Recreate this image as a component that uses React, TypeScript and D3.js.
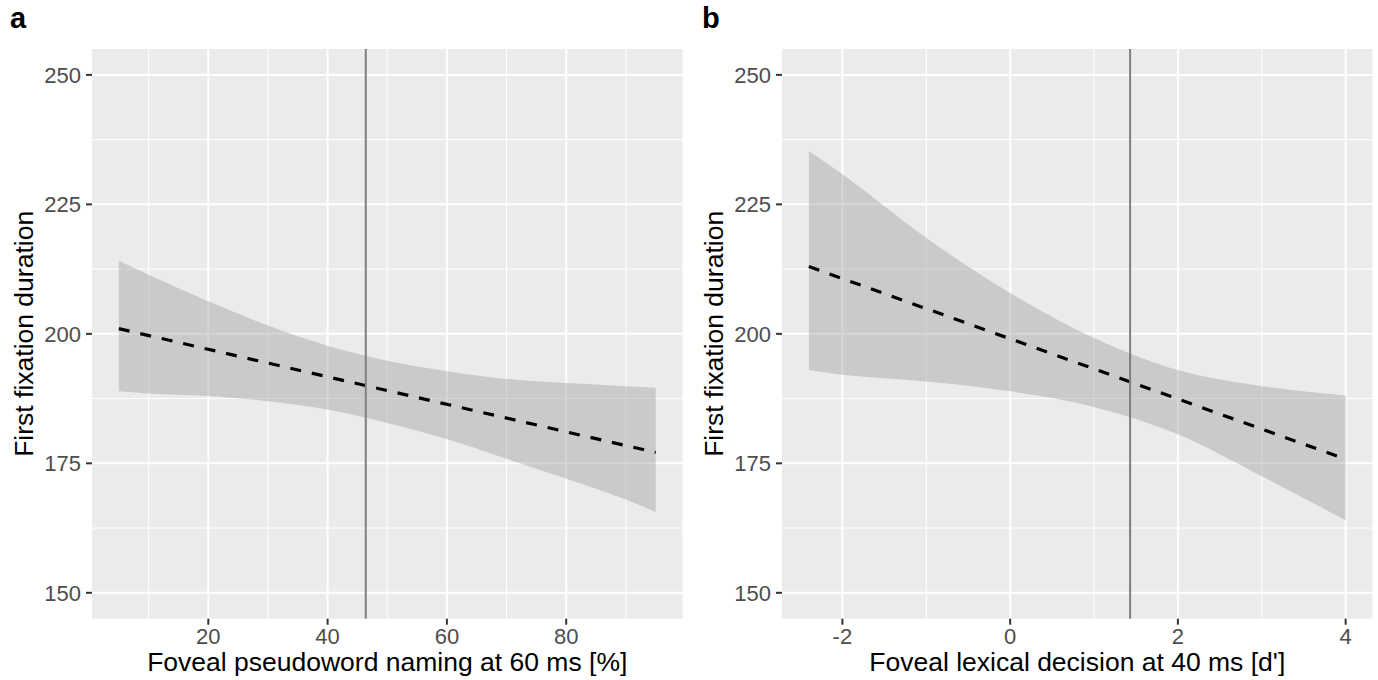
import React from "react";
import * as d3 from "d3";

// ---------- data ----------
const yTicks = [150, 175, 200, 225, 250];
const yMinor = [162.5, 187.5, 212.5, 237.5];

// panel a
const xTicksA = [20, 40, 60, 80];
const xMinorA = [10, 30, 50, 70, 90];
const ribbonXA = [5, 10, 20, 30, 40, 50, 60, 70, 80, 90, 95];
const upperA = [214.1, 211.4, 206.3, 201.6, 197.7, 194.8, 192.8, 191.3, 190.5, 189.9, 189.6];
const lowerA = [188.9, 188.5, 188.0, 187.0, 185.4, 182.8, 179.7, 175.9, 172.0, 168.0, 165.6];
const fitXA = [5, 95];
const fitYA = [201.0, 177.1];
const vlineA = 46.4;

// panel b
const xTicksB = [-2, 0, 2, 4];
const xMinorB = [-1, 1, 3];
const ribbonXB = [-2.4, -2, -1, 0, 1, 2, 3, 4];
const upperB = [235.3, 230.8, 218.5, 207.9, 199.2, 193.0, 189.9, 188.1];
const lowerB = [193.0, 192.1, 190.8, 188.9, 185.9, 180.6, 172.5, 164.0];
const fitXB = [-2.4, 4];
const fitYB = [213.0, 175.8];
const vlineB = 1.43;

const FONT = "'Liberation Sans', Arial, Helvetica, sans-serif";

type PanelProps = {
  tag: string;
  tagX: number;
  left: number;
  right: number;
  xDomain: [number, number];
  xTicks: number[];
  xMinor: number[];
  ribX: number[];
  upper: number[];
  lower: number[];
  fitX: number[];
  fitY: number[];
  vline: number;
  xTitle: string;
  yTitleX: number;
};

const TOP = 49;
const BOTTOM = 618.7;

function Panel(p: PanelProps) {
  const x = d3.scaleLinear().domain(p.xDomain).range([p.left, p.right]);
  const y = d3.scaleLinear().domain([145, 255]).range([BOTTOM, TOP]);
  const ribData = p.ribX.map((v, i) => ({ x: v, lo: p.lower[i], hi: p.upper[i] }));
  const area = d3
    .area<{ x: number; lo: number; hi: number }>()
    .x((d) => x(d.x))
    .y0((d) => y(d.lo))
    .y1((d) => y(d.hi))
    .curve(d3.curveMonotoneX);
  const fitData = p.fitX.map((v, i) => [x(v), y(p.fitY[i])] as [number, number]);
  const line = d3.line();
  const cx = (p.left + p.right) / 2;
  const cy = (TOP + BOTTOM) / 2;
  return (
    <g>
      <text x={p.tagX} y={28} fontSize={29} fontWeight="bold" fontFamily={FONT} fill="#000">
        {p.tag}
      </text>
      <rect x={p.left} y={TOP} width={p.right - p.left} height={BOTTOM - TOP} fill="#EBEBEB" />
      {yMinor.map((v) => (
        <line key={"ym" + v} x1={p.left} x2={p.right} y1={y(v)} y2={y(v)} stroke="#fff" strokeWidth={1} />
      ))}
      {p.xMinor.map((v) => (
        <line key={"xm" + v} x1={x(v)} x2={x(v)} y1={TOP} y2={BOTTOM} stroke="#fff" strokeWidth={1} />
      ))}
      {yTicks.map((v) => (
        <line key={"yM" + v} x1={p.left} x2={p.right} y1={y(v)} y2={y(v)} stroke="#fff" strokeWidth={2} />
      ))}
      {p.xTicks.map((v) => (
        <line key={"xM" + v} x1={x(v)} x2={x(v)} y1={TOP} y2={BOTTOM} stroke="#fff" strokeWidth={2} />
      ))}
      <path d={area(ribData) || ""} fill="#999999" fillOpacity={0.4} />
      <path d={line(fitData) || ""} fill="none" stroke="#000" strokeWidth={3.2} strokeDasharray="11,11" />
      <line x1={x(p.vline)} x2={x(p.vline)} y1={TOP} y2={BOTTOM} stroke="#7F7F7F" strokeWidth={2} />
      {/* y axis */}
      {yTicks.map((v) => (
        <g key={"yt" + v}>
          <line x1={p.left - 6} x2={p.left} y1={y(v)} y2={y(v)} stroke="#333" strokeWidth={2} />
          <text
            x={p.left - 11}
            y={y(v)}
            dy="0.36em"
            textAnchor="end"
            fontSize={22}
            fontFamily={FONT}
            fill="#4D4D4D"
          >
            {v}
          </text>
        </g>
      ))}
      {/* x axis */}
      {p.xTicks.map((v) => (
        <g key={"xt" + v}>
          <line x1={x(v)} x2={x(v)} y1={BOTTOM} y2={BOTTOM + 6} stroke="#333" strokeWidth={2} />
          <text x={x(v)} y={644} textAnchor="middle" fontSize={22} fontFamily={FONT} fill="#4D4D4D">
            {v}
          </text>
        </g>
      ))}
      <text x={cx} y={671} textAnchor="middle" fontSize={26.5} fontFamily={FONT} fill="#000">
        {p.xTitle}
      </text>
      <text
        transform={`translate(${p.yTitleX},${cy}) rotate(-90)`}
        textAnchor="middle"
        fontSize={26.5}
        fontFamily={FONT}
        fill="#000"
      >
        First fixation duration
      </text>
    </g>
  );
}

export default function App() {
  return (
    <svg
      width={1378}
      height={680}
      style={{ position: "absolute", left: 0, top: 0, background: "#fff" }}
    >
      <rect width={1378} height={680} fill="#fff" />
      <Panel
        tag="a"
        tagX={10}
        left={92}
        right={682.5}
        xDomain={[0.5, 99.5]}
        xTicks={xTicksA}
        xMinor={xMinorA}
        ribX={ribbonXA}
        upper={upperA}
        lower={lowerA}
        fitX={fitXA}
        fitY={fitYA}
        vline={vlineA}
        xTitle="Foveal pseudoword naming at 60 ms [%]"
        yTitleX={33}
      />
      <Panel
        tag="b"
        tagX={702}
        left={782}
        right={1372.5}
        xDomain={[-2.72, 4.32]}
        xTicks={xTicksB}
        xMinor={xMinorB}
        ribX={ribbonXB}
        upper={upperB}
        lower={lowerB}
        fitX={fitXB}
        fitY={fitYB}
        vline={vlineB}
        xTitle="Foveal lexical decision at 40 ms [d']"
        yTitleX={723}
      />
    </svg>
  );
}
